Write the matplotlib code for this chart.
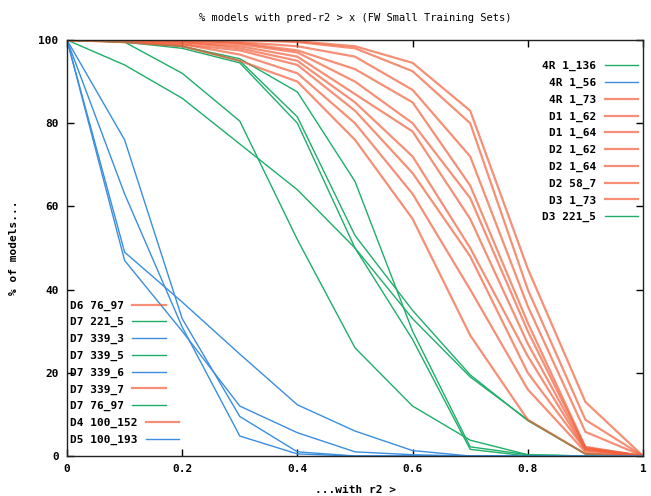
import matplotlib
matplotlib.use("Agg")
import matplotlib.pyplot as plt

# ==========================
# Data
# ==========================
r2_cut = [0.0, 0.1, 0.2, 0.3, 0.4, 0.5, 0.6, 0.7, 0.8, 0.9, 1.0]

labels = ["4R 1_136", "4R 1_56", "4R 1_73", "D1 1_62", "D1 1_64",
          "D2 1_62", "D2 1_64", "D2 58_7", "D3 1_73", "D3 221_5",
          "D6 76_97", "D7 221_5", "D7 339_3", "D7 339_5", "D7 339_6",
          "D7 339_7", "D7 76_97", "D4 100_152", "D5 100_193"]

# which colour family each series is drawn in
family = ["green", "blue", "orange", "orange", "orange",
          "orange", "orange", "orange", "orange", "green",
          "orange", "green", "blue", "green", "blue",
          "orange", "green", "orange", "blue"]

r4_1_136   = [100, 94, 86, 75, 64, 50, 33, 19, 8.7, 0.5, 0]
r4_1_56    = [100, 76, 33, 9.5, 1.0, 0, 0, 0, 0, 0, 0]
r4_1_73    = [100, 100, 100, 100, 99.7, 98.5, 94.5, 83, 45, 13, 0]
d1_1_62    = [100, 100, 100, 100, 99.5, 98, 92.5, 80, 40, 8.7, 0]
d1_1_64    = [100, 100, 100, 99.5, 98.5, 96, 88, 72, 36, 5.8, 0]
d2_1_62    = [100, 100, 100, 99.3, 97.5, 93, 85, 65, 32, 2.2, 0]
d2_1_64    = [100, 100, 99.8, 99, 97, 90, 80, 62, 30, 2.0, 0]
d2_58_7    = [100, 100, 99.5, 98.5, 96, 87, 78, 57, 27, 1.8, 0]
d3_1_73    = [100, 99.8, 99.5, 98, 95, 85, 72, 50, 24, 1.5, 0]
d3_221_5   = [100, 99.5, 92, 80.5, 52, 26, 12, 3.8, 0.3, 0, 0]
d6_76_97   = [100, 99.8, 99, 97.5, 94, 83, 68, 48, 20, 1.5, 0]
d7_221_5   = [100, 99.5, 98.5, 95.5, 87.5, 66, 30, 2.2, 0.3, 0, 0]
d7_339_3   = [100, 63, 31, 4.8, 0.5, 0, 0, 0, 0, 0, 0]
d7_339_5   = [100, 99.5, 98.5, 95, 81.5, 53, 35, 19.5, 8.5, 0.5, 0]
d7_339_6   = [100, 49, 37, 24.5, 12.3, 6, 1.3, 0, 0, 0, 0]
d7_339_7   = [100, 99.5, 99, 96.5, 92, 80, 63, 40, 16, 1.0, 0]
d7_76_97   = [100, 99.5, 98, 94.5, 80, 50, 28, 1.6, 0, 0, 0]
d4_100_152 = [100, 99.5, 98.5, 95, 90, 76, 57, 29, 8.7, 0.5, 0]
d5_100_193 = [100, 47, 30, 12, 5.6, 1.0, 0.3, 0, 0, 0, 0]

series = [r4_1_136, r4_1_56, r4_1_73, d1_1_62, d1_1_64,
          d2_1_62, d2_1_64, d2_58_7, d3_1_73, d3_221_5,
          d6_76_97, d7_221_5, d7_339_3, d7_339_5, d7_339_6,
          d7_339_7, d7_76_97, d4_100_152, d5_100_193]

# ==========================
# Styles
# ==========================
style = {
    "green":  dict(color="#1fae6a", lw=1.0, alpha=1.0),
    "blue":   dict(color="#3b8ee0", lw=1.0, alpha=1.0),
    "orange": dict(color="#f2603c", lw=1.6, alpha=0.7),
}
mono = "DejaVu Sans Mono"

fig = plt.figure(figsize=(6.51, 4.96), dpi=100)
ax = fig.add_axes([67/651, 1 - 456/496, 576/651, 416/496])

handles = []
for lab, fam, vals in zip(labels, family, series):
    h, = ax.plot(r2_cut, vals, label=lab, **style[fam])
    handles.append(h)

ax.set_xlim(0, 1)
ax.set_ylim(0, 100)
ax.set_xticks([0, 0.2, 0.4, 0.6, 0.8, 1.0])
ax.set_xticklabels(["0", "0.2", "0.4", "0.6", "0.8", "1"])
ax.set_yticks([0, 20, 40, 60, 80, 100])
ax.tick_params(direction="in", top=True, right=True, length=5, width=1,
               labelsize=8, pad=6)
for lbl in ax.get_xticklabels() + ax.get_yticklabels():
    lbl.set_family(mono)
    lbl.set_fontweight("bold")
for sp in ax.spines.values():
    sp.set_linewidth(1.0)
    sp.set_color("#222222")

ax.set_title("% models with pred-r2 > x (FW Small Training Sets)",
             family=mono, fontsize=7.5, pad=14)
ax.set_xlabel("...with r2 >", family=mono, fontsize=8, fontweight="bold",
              labelpad=8)
ax.set_ylabel("% of models...", family=mono, fontsize=8, fontweight="bold",
              labelpad=14)

leg_font = dict(family=mono, weight="bold", size=8)
leg1 = ax.legend(handles=handles[:10], loc="upper right",
                 bbox_to_anchor=(1.005, 0.968), frameon=False,
                 markerfirst=False, prop=leg_font, handlelength=3.0,
                 handletextpad=0.8, labelspacing=0.59, borderpad=0.2)
ax.add_artist(leg1)
leg2 = ax.legend(handles=handles[10:], loc="lower left",
                 bbox_to_anchor=(-0.009, 0.008), frameon=False,
                 markerfirst=False, prop=leg_font, handlelength=3.0,
                 handletextpad=0.8, labelspacing=0.59, borderpad=0.2)
# gnuplot keeps this key left-justified
for col in leg2._legend_handle_box.get_children():
    col.align = "left"

plt.savefig("out.png", dpi=100)
